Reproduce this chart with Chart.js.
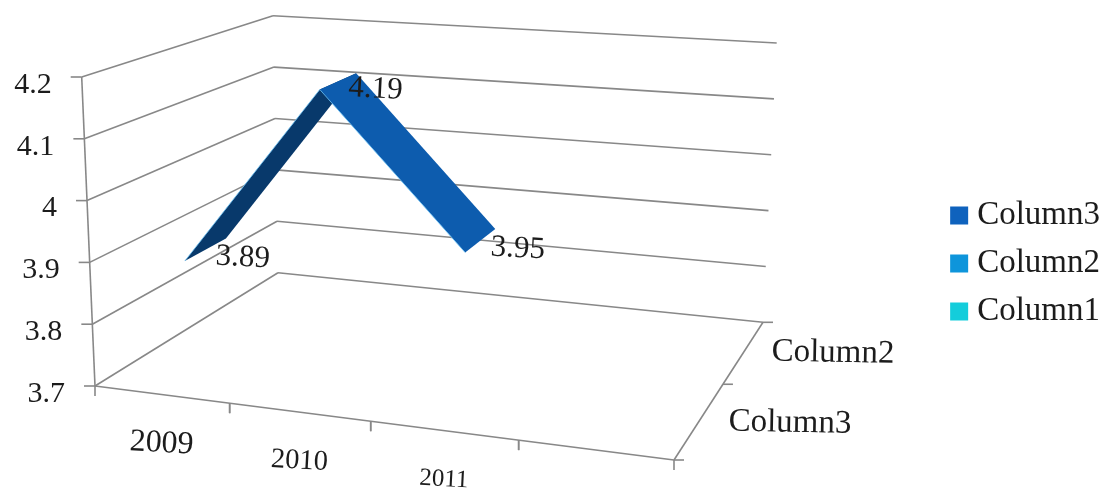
<!DOCTYPE html>
<html>
<head>
<meta charset="utf-8">
<title>Column3 2009-2011</title>
<script src="https://cdn.jsdelivr.net/npm/chart.js@4"></script>
<style>
  html, body { margin: 0; background: #fff; }
  canvas { display: block; }
</style>
</head>
<body>
<canvas id="chart" width="1105" height="491"></canvas>
<script>
const categories = ['2009', '2010', '2011', ''];
const valueTicks = ['3.7', '3.8', '3.9', '4', '4.1', '4.2'];
const depthLabels = ['Column3', 'Column2'];
const column3 = [3.89, 4.19, 3.95, null];
const column2 = [null, null, null, null];
const column1 = [null, null, null, null];

const FONT = '"Liberation Serif", serif';
const INK = '#1c1c1c';
const GRID = '#888';

// corners of the 3D box on the canvas: f/b = front/back, l/r = left/right, b/t = bottom/top
const box = {
  flb: [95, 386], flt: [81.7, 77], frb: [674, 460], frt: [688, 125],
  blb: [278, 272.7], blt: [273, 15.7], brb: [763, 322.3], brt: [776.7, 43]
};
const RIBBON_FRONT = 0.155, RIBBON_BACK = 0.39, DEPTH_TICK = 0.55;
const PERSPECTIVE = 1.1;

const lerp = (a, b, k) => [a[0] + (b[0] - a[0]) * k, a[1] + (b[1] - a[1]) * k];

// s along the categories, t up the values, d into the chart; all 0..1
function project(s, t, d) {
  const u = s / (s + (1 - s) * PERSPECTIVE);
  const front = lerp(lerp(box.flb, box.frb, u), lerp(box.flt, box.frt, u), t);
  const back = lerp(lerp(box.blb, box.brb, u), lerp(box.blt, box.brt, u), t);
  return lerp(front, back, d);
}

const catFrac = (chart, i) => {
  const x = chart.scales.x;
  return (x.getPixelForValue(i) - x.left) / x.width;
};
const valFrac = (chart, v) => {
  const y = chart.scales.y;
  return (y.bottom - y.getPixelForValue(v)) / y.height;
};

function line(ctx, a, b) {
  ctx.beginPath();
  ctx.moveTo(a[0], a[1]);
  ctx.lineTo(b[0], b[1]);
  ctx.stroke();
}

function label(ctx, text, x, y, size, angle = 0, align = 'center') {
  ctx.save();
  ctx.translate(x, y);
  ctx.rotate(angle * Math.PI / 180);
  ctx.font = size + 'px ' + FONT;
  ctx.fillStyle = INK;
  ctx.textAlign = align;
  ctx.textBaseline = 'middle';
  ctx.fillText(text, 0, 0);
  ctx.restore();
}

const box3d = {
  id: 'box3d',
  afterDatasetsDraw(chart) {
    const ctx = chart.ctx;
    ctx.save();
    ctx.strokeStyle = GRID;
    ctx.lineWidth = 1.6;

    // walls, with the value ticks poking out to the left
    valueTicks.forEach((tick) => {
      const t = valFrac(chart, Number(tick));
      const front = project(0, t, 0);
      const corner = project(0, t, 1);
      line(ctx, front, corner);
      line(ctx, corner, project(1, t, 1));
      line(ctx, [front[0] - 11, front[1]], front);
      label(ctx, tick, front[0] - 30, front[1] + 8, 30, 0, 'right');
    });
    line(ctx, project(0, 0, 0), project(0, 1, 0));

    // floor edges and their ticks
    line(ctx, project(0, 0, 0), project(1, 0, 0));
    line(ctx, project(1, 0, 0), project(1, 0, 1));
    categories.forEach((c, i) => {
      [i - 0.5, i + 0.5].forEach((edge) => {
        const p = project(catFrac(chart, edge), 0, 0);
        line(ctx, p, [p[0], p[1] + 10]);
      });
    });
    [0, DEPTH_TICK, 1].forEach((d) => {
      const p = project(1, 0, d);
      line(ctx, p, [p[0] + 10, p[1]]);
    });

    // ribbon for the one series that has values
    const pts = column3.map((v, i) => (v === null ? null : {
      v, s: catFrac(chart, i), t: valFrac(chart, v)
    })).filter(Boolean);
    for (let i = 0; i < pts.length - 1; i++) {
      const a = pts[i], b = pts[i + 1];
      const a0 = project(a.s, a.t, RIBBON_FRONT), a1 = project(a.s, a.t, RIBBON_BACK);
      const b0 = project(b.s, b.t, RIBBON_FRONT), b1 = project(b.s, b.t, RIBBON_BACK);
      ctx.fillStyle = b.v > a.v ? '#08396b' : '#0d5cae';
      ctx.beginPath();
      ctx.moveTo(a0[0], a0[1]);
      ctx.lineTo(b0[0], b0[1]);
      ctx.lineTo(b1[0], b1[1]);
      ctx.lineTo(a1[0], a1[1]);
      ctx.closePath();
      ctx.fill();
      ctx.save();
      ctx.strokeStyle = 'rgba(110,195,245,0.8)';
      ctx.lineWidth = 1;
      line(ctx, a0, b0);
      ctx.restore();
    }

    // category labels shrink with distance along the floor
    const catSizes = [32, 28.5, 25];
    categories.forEach((c, i) => {
      if (!c) return;
      const p = project(catFrac(chart, i), 0, 0);
      label(ctx, c, p[0], p[1] + 49, catSizes[i], 3);
    });

    label(ctx, depthLabels[0], 790, 423, 33, 1);
    label(ctx, depthLabels[1], 833, 353, 33, 1);

    // value labels sit just right of the ribbon
    pts.forEach((p) => {
      const mid = project(p.s, p.t, (RIBBON_FRONT + RIBBON_BACK) / 2);
      label(ctx, String(p.v), mid[0] + 37.5, mid[1] + 8, 31, 3);
    });
    ctx.restore();
  }
};

const hidden = { showLine: false, pointRadius: 0, pointHoverRadius: 0, borderWidth: 0 };

new Chart(document.getElementById('chart'), {
  type: 'line',
  data: {
    labels: categories,
    datasets: [
      { label: 'Column3', data: column3, backgroundColor: '#0f62bd', ...hidden },
      { label: 'Column2', data: column2, backgroundColor: '#0e95db', ...hidden },
      { label: 'Column1', data: column1, backgroundColor: '#14cddb', ...hidden }
    ]
  },
  options: {
    responsive: false,
    animation: false,
    layout: { padding: { top: 36, right: -5 } },
    scales: {
      x: { display: false, offset: true },
      y: { display: false, min: 3.7, max: 4.2 }
    },
    plugins: {
      tooltip: { enabled: false },
      legend: {
        position: 'right',
        labels: {
          usePointStyle: true,
          pointStyle: 'rect',
          boxWidth: 3,
          boxHeight: 18,
          padding: 15,
          color: INK,
          font: { family: FONT, size: 33 }
        }
      }
    }
  },
  plugins: [box3d]
});
</script>
</body>
</html>
